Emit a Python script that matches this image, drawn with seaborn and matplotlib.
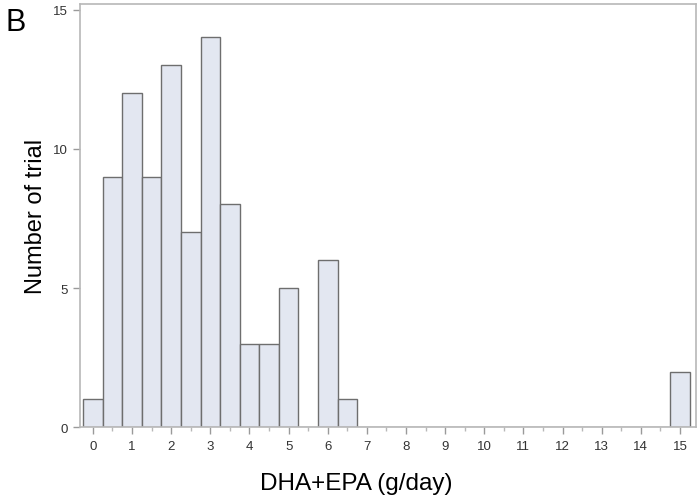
import numpy as np
import pandas as pd
import matplotlib
matplotlib.use("Agg")
import matplotlib.pyplot as plt
import seaborn as sns

# bin centres (g/day) and number of trials in each 0.5 g/day bin
dose_centers = [0, 0.5, 1, 1.5, 2, 2.5, 3, 3.5, 4, 4.5, 5, 5.5, 6, 6.5,
                7, 7.5, 8, 8.5, 9, 9.5, 10, 10.5, 11, 11.5, 12, 12.5,
                13, 13.5, 14, 14.5, 15]
trial_counts = [1, 9, 12, 9, 13, 7, 14, 8, 3, 3, 5, 0, 6, 1,
                0, 0, 0, 0, 0, 0, 0, 0, 0, 0, 0, 0,
                0, 0, 0, 0, 2]
x_ticks = list(range(0, 16))
y_ticks = [0, 5, 10, 15]

df = pd.DataFrame({"dose": dose_centers, "n": trial_counts})

sns.set_style("white")
plt.rcParams['font.family'] = ['Liberation Sans', 'DejaVu Sans']

fig = plt.figure(figsize=(6.98, 5.02), dpi=100)
ax = fig.add_axes([0.1146, 0.147, 0.882, 0.843])

sns.histplot(data=df, x="dose", weights="n", binwidth=0.5,
             binrange=(-0.25, 15.25), ax=ax,
             color="#e3e7f1", alpha=1, edgecolor="#6e6e6e", linewidth=1.0)

ax.set_xlim(-0.33, 15.4)
ax.set_ylim(0, 15.2)
ax.set_xticks(x_ticks)
ax.set_xticks(np.arange(0.5, 15, 1), minor=True)
ax.set_yticks(y_ticks)

for s in ax.spines.values():
    s.set_color("#b8b8b8")
    s.set_linewidth(1.2)

ax.tick_params(axis="both", which="major", length=5, width=1, color="#9a9a9a",
               labelsize=9.5, labelcolor="#333333", pad=4, direction="out",
               bottom=True, left=True)
ax.tick_params(axis="x", which="minor", length=3, width=1, color="#b8b8b8",
               bottom=True)

ax.set_xlabel("DHA+EPA (g/day)", fontsize=17.5, color="black")
ax.set_ylabel("Number of trial", fontsize=17, labelpad=4, color="black")
# x label sits left of the axes centre in the original
ax.xaxis.set_label_coords(0.448, -0.105)

fig.text(0.008, 0.985, "B", fontsize=22, va="top", ha="left", color="black")

fig.savefig("out.png", dpi=100)
